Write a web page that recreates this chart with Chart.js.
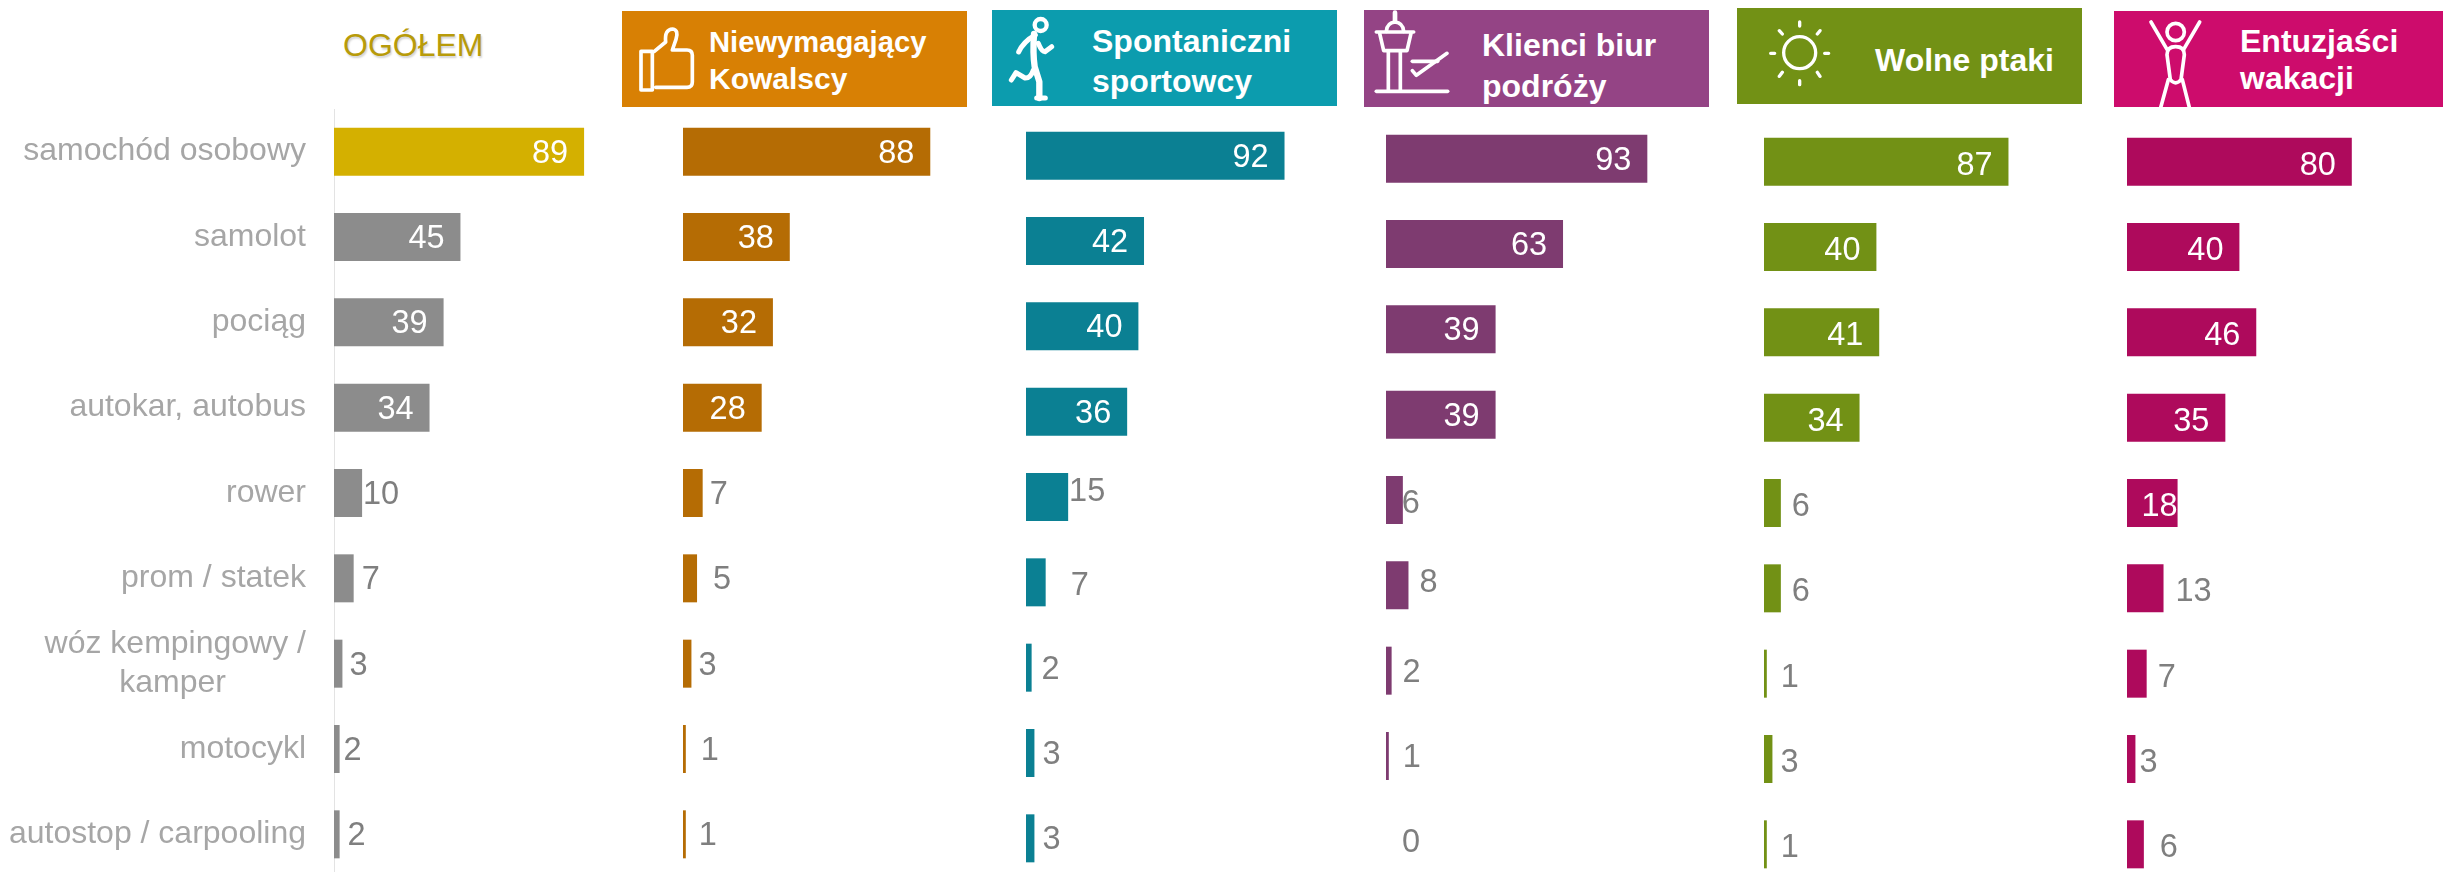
<!DOCTYPE html>
<html lang="pl">
<head>
<meta charset="utf-8">
<title>Środki transportu</title>
<script src="https://cdn.jsdelivr.net/npm/chart.js@4"></script>
<style>
html,body{margin:0;padding:0;background:#fff;width:2443px;height:872px;overflow:hidden;font-family:"Liberation Sans",Arial,sans-serif}
canvas{position:absolute;display:block}
.hd{position:absolute;color:#fff;font-weight:700;font-size:32px}
.hd span{position:absolute;white-space:nowrap;line-height:36px}
svg{position:absolute;left:0;top:0;overflow:visible}
svg *{fill:none;stroke:#fff;stroke-linecap:round;stroke-linejoin:round}
#total{position:absolute;left:343px;top:27px;font-size:32px;line-height:36px;color:#b89b0a;text-shadow:1px 2px 2px rgba(0,0,0,.18)}
</style>
</head>
<body>
<div id="total">OGÓŁEM</div>

<div class="hd" style="left:622px;top:11px;width:345px;height:96px;background:#d88004">
  <svg width="100" height="100" viewBox="0 0 300 300" style="left:3px;top:-1px"><g stroke-width="11">
    <path d="M48 124H82V240H48Z"/>
    <path d="M88 124L122 96Q118 58 143 57Q162 60 153 88L142 120H186Q202 120 202 136V216Q202 232 186 232H92"/>
  </g></svg>
  <span style="left:87px;top:13px;font-size:29.2px">Niewymagający</span>
  <span style="left:87px;top:50px;font-size:30px">Kowalscy</span>
</div>

<div class="hd" style="left:992px;top:10px;width:345px;height:96px;background:#0c9cae">
  <svg width="100" height="100" viewBox="0 0 300 300" style="left:-2px;top:0"><g stroke-width="15">
    <circle cx="152" cy="45" r="18" stroke-width="13"/>
    <path d="M136 75Q100 95 86 126"/>
    <path d="M132 72Q128 130 134 170L148 215V264" stroke-width="19"/>
    <path d="M145 100Q155 125 165 125L185 110"/>
    <path d="M130 180Q122 205 105 204L78 188L64 210"/>
    <path d="M140 264H166"/>
  </g></svg>
  <span style="left:100px;top:13px">Spontaniczni</span>
  <span style="left:100px;top:53px">sportowcy</span>
</div>

<div class="hd" style="left:1364px;top:10px;width:345px;height:97px;background:#944485">
  <svg width="100" height="100" viewBox="0 0 300 300" style="left:1px;top:-2px"><g stroke-width="11">
    <path d="M90 14V38" stroke-width="14"/>
    <path d="M64 70Q66 44 90 42Q114 44 116 70"/>
    <path d="M34 72H146"/>
    <path d="M44 76L56 128H126L138 76"/>
    <path d="M70 130V248M106 130V248"/>
    <path d="M34 250H248"/>
    <path d="M142 160H218"/>
    <path d="M142 188L154 202L246 136"/>
  </g></svg>
  <span style="left:118px;top:17px">Klienci biur</span>
  <span style="left:118px;top:58px">podróży</span>
</div>

<div class="hd" style="left:1737px;top:8px;width:345px;height:96px;background:#729115">
  <svg width="100" height="100" viewBox="0 0 300 300" style="left:13px;top:0"><g stroke-width="10">
    <circle cx="149" cy="134" r="48"/>
    <path d="M149 42V54M149 218V230M62 136H74M224 136H236M88 68L97 78M210 68L202 78M88 205L97 193M210 205L202 193"/>
  </g></svg>
  <span style="left:138px;top:34px">Wolne ptaki</span>
</div>

<div class="hd" style="left:2114px;top:11px;width:329px;height:96px;background:#cd0c6c;overflow:hidden">
  <svg width="100" height="100" viewBox="0 0 300 300" style="left:11px;top:-3px"><g stroke-width="11">
    <circle cx="152" cy="72" r="26"/>
    <path d="M78 42L126 124M224 42L176 124"/>
    <path d="M126 140Q126 116 152 116Q178 116 178 140L168 215Q152 234 136 215Z"/>
    <path d="M130 215L104 310M172 215L196 310"/>
  </g></svg>
  <span style="left:126px;top:12px">Entuzjaści</span>
  <span style="left:126px;top:49px">wakacji</span>
</div>

<canvas id="c0"></canvas><canvas id="c1"></canvas><canvas id="c2"></canvas>
<canvas id="c3"></canvas><canvas id="c4"></canvas><canvas id="c5"></canvas>

<script>
// ---- data ----
const categories = ['samochód osobowy','samolot','pociąg','autokar, autobus','rower','prom / statek',
  ['wóz kempingowy /','kamper         '],'motocykl','autostop / carpooling'];
const ogolem      = [89,45,39,34,10,7,3,2,2];
const kowalscy    = [88,38,32,28,7,5,3,1,1];
const sportowcy   = [92,42,40,36,15,7,2,3,3];
const klienci     = [93,63,39,39,6,8,2,1,0];
const wolnePtaki  = [87,40,41,34,6,6,1,3,1];
const entuzjasci  = [80,40,46,35,18,13,7,3,6];

// ---- label placement relative to bar end (px), separate from the data ----
const INSIDE = -34;
const dx0 = [INSIDE,INSIDE,INSIDE,INSIDE,19,17,16,13,17];
const dx1 = [INSIDE,INSIDE,INSIDE,INSIDE,16,25,16,24,22];
const dx2 = [INSIDE,INSIDE,INSIDE,INSIDE,19,34,19,17,17];
const dx3 = [INSIDE,INSIDE,INSIDE,INSIDE,8,20,20,23,25];
const dx4 = [INSIDE,INSIDE,INSIDE,INSIDE,20,20,23,17,23];
const dx5 = [INSIDE,INSIDE,INSIDE,INSIDE,-18,30,20,13,25];
const dy2 = [0,0,0,0,-7,2,0,0,0];
const dy3 = [0,0,0,0,2,-4,0,0,0];
const dy45 = [2,2,2,2,2,2,2,2,2];
const none = [0,0,0,0,0,0,0,0,0];

const FONT = '"Liberation Sans", Arial, sans-serif';
const PX_SCALE_MAX = 100, PLOT_W = 281, BAND_H = 768;
const GREY = '#8c8c8c';

const valueLabels = {
  id:'valueLabels',
  afterDatasetsDraw(chart, args, opts){
    const ctx = chart.ctx, meta = chart.getDatasetMeta(0), values = chart.data.datasets[0].data;
    ctx.save();
    ctx.font = '32.5px ' + FONT;
    ctx.textAlign = 'center';
    ctx.textBaseline = 'middle';
    meta.data.forEach((bar,i)=>{
      const inside = opts.dx[i] < 0;
      ctx.fillStyle = inside ? '#ffffff' : '#7f7f7f';
      ctx.fillText(String(values[i]), bar.x + opts.dx[i], bar.y + 2 + opts.dy[i]);
    });
    ctx.restore();
  }
};

function panel(id, left, top, values, colors, dx, dy, withAxis){
  const cv = document.getElementById(id);
  const axisW = withAxis ? 334 : 0;
  cv.width = axisW + PLOT_W; cv.height = BAND_H;
  cv.style.left = left + 'px'; cv.style.top = top + 'px';
  new Chart(cv, {
    type:'bar',
    data:{labels:categories, datasets:[{data:values, backgroundColor:colors, barThickness:48, borderWidth:0, inflateAmount:0}]},
    plugins:[valueLabels],
    options:{
      indexAxis:'y', responsive:false, animation:false,
      devicePixelRatio:1,
      layout:{padding:0, autoPadding:false},
      plugins:{legend:{display:false}, tooltip:{enabled:false}, title:{display:false}, valueLabels:{dx, dy}},
      scales:{
        x:{display:false, min:0, max:PX_SCALE_MAX},
        y:{
          display:withAxis,
          afterFit:s=>{
            s.width = axisW;
            s.paddingTop = 0; s.paddingBottom = 0;
            if (s._margins) { s._margins.top = 0; s._margins.bottom = 0; }
          },
          grid:{display:false, drawTicks:false},
          border:{display:withAxis, color:'#e3e3e3', width:1},
          ticks:{color:'#a6a6a6', padding:28, font:{family:FONT, size:32, lineHeight:1.2}, autoSkip:false, maxRotation:0}
        }
      }
    }
  });
}

panel('c0',   0, 109, ogolem,     ['#d4b000',GREY,GREY,GREY,GREY,GREY,GREY,GREY,GREY], dx0, none, true);
panel('c1', 683, 109, kowalscy,   '#b56c04', dx1, none, false);
panel('c2',1026, 113, sportowcy,  '#0b8093', dx2, dy2, false);
panel('c3',1386, 116, klienci,    '#7e3b70', dx3, dy3, false);
panel('c4',1764, 119, wolnePtaki, '#729115', dx4, dy45, false);
panel('c5',2127, 119, entuzjasci, '#ae0a5c', dx5, dy45, false);
</script>
</body>
</html>
